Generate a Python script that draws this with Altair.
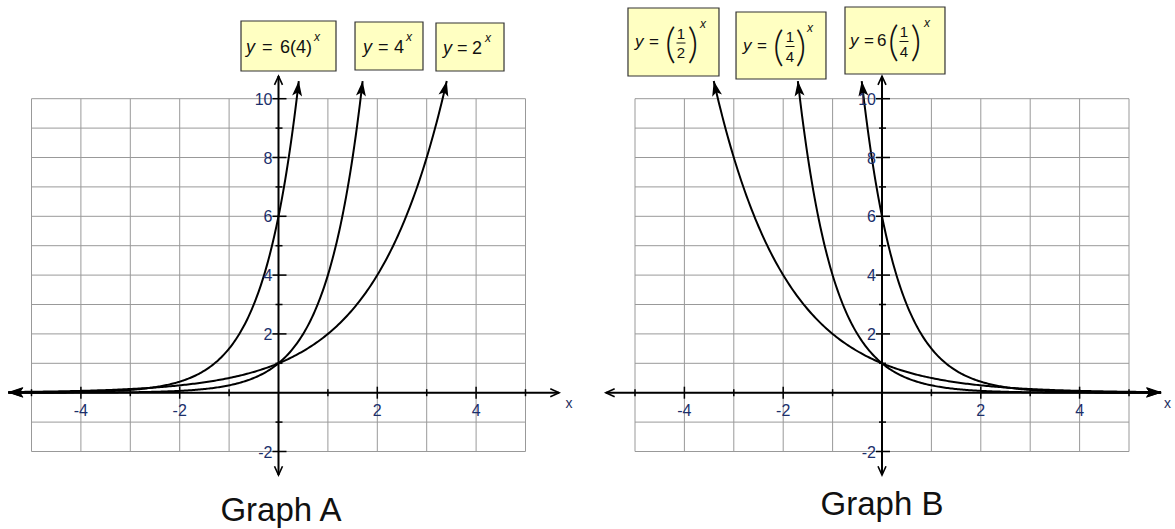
import math
import numpy as np
import pandas as pd
import altair as alt

# ---------------------------------------------------------------------------
# Exponential families, y = coef * base**x
# ---------------------------------------------------------------------------
COEF_A = [6, 1, 1]
BASE_A = [4, 4, 2]
COEF_B = [1, 1, 6]
BASE_B = [0.5, 0.25, 0.25]

TIP_Y = 10.6          # height where the steep branches end in an arrowhead
TAIL_X_A = -5.47      # left end of the Graph A curves
TAIL_X_B = 5.65       # right end of the Graph B curves

GRID_X = list(range(-5, 6))
GRID_Y = list(range(-2, 11))
X_TICK_LABELS = [-4, -2, 2, 4]
Y_TICK_LABELS = [10, 8, 6, 4, 2, -2]

X_AXIS_A = [-5.47, 5.68]
X_AXIS_B = [-5.59, 5.65]
Y_AXIS = [-2.8, 10.77]

TITLES = ["Graph A", "Graph B"]

# equation boxes: x0, x1, y_top, y_bottom (data units)
BOXES_A = [(-0.759, 1.164, 12.643, 10.942),
           (1.549, 2.925, 12.609, 10.976),
           (3.188, 4.565, 12.575, 10.942)]
BOXES_B = [(-5.142, -3.300, 13.085, 10.772),
           (-2.955, -1.134, 12.949, 10.670),
           (-0.749, 1.275, 13.119, 10.840)]

# ---------------------------------------------------------------------------
# page geometry
# ---------------------------------------------------------------------------
KX, KY = 49.4, 29.4        # pixels per unit
H = 529
Y0 = 392.7                 # pixel row of y = 0
PANEL_W = [587, 588]
ORIGIN = [278.5, 295.0]    # pixel column of x = 0 inside each panel

GRID_COLOR = "#999999"
TICK_TEXT = "#1b2f6b"
BOX_FILL = "#ffffc2"
FONT = "Liberation Sans"

# typesetting of the equation labels:
# (text, style, font size, offset right of box edge px, offset below box centre px, align)
LAYOUT_A = [
    [("y", "it", 18, 5, 1.5, "left"), ("=", "rm", 18, 21, 1.5, "left"),
     ("6(4)", "rm", 18, 39, 1.5, "left"), ("x", "it", 12, 73, -9, "left")],
    [("y", "it", 18, 8, 1.5, "left"), ("=", "rm", 18, 23, 1.5, "left"),
     ("4", "rm", 18, 39, 1.5, "left"), ("x", "it", 12, 51, -9, "left")],
    [("y", "it", 18, 7, 1.5, "left"), ("=", "rm", 18, 21, 1.5, "left"),
     ("2", "rm", 18, 36, 1.5, "left"), ("x", "it", 12, 49, -9, "left")],
]
LAYOUT_B = [
    [("y", "it", 17, 7, 0, "left"), ("=", "rm", 17, 21, 0, "left"),
     ("(", "paren", 42, 42.5, 2.5, "center"), ("1", "rm", 15, 53, -8.5, "center"),
     ("", "bar", 9, 53, 1, "center"), ("2", "rm", 15, 53, 11, "center"),
     (")", "paren", 42, 65, 2.5, "center"), ("x", "it", 12, 72, -18, "left")],
    [("y", "it", 17, 7, 0, "left"), ("=", "rm", 17, 21, 0, "left"),
     ("(", "paren", 42, 42.5, 2.5, "center"), ("1", "rm", 15, 54, -8.5, "center"),
     ("", "bar", 9, 54, 1, "center"), ("4", "rm", 15, 54, 11, "center"),
     (")", "paren", 42, 65, 2.5, "center"), ("x", "it", 12, 71, -18, "left")],
    [("y", "it", 17, 5, 0, "left"), ("=", "rm", 17, 19, 0, "left"),
     ("6", "rm", 17, 32, 0, "left"),
     ("(", "paren", 42, 48.5, 2.5, "center"), ("1", "rm", 15, 59, -8.5, "center"),
     ("", "bar", 9, 59, 1, "center"), ("4", "rm", 15, 59, 11, "center"),
     (")", "paren", 42, 71, 2.5, "center"), ("x", "it", 12, 79, -18, "left")],
]

ARROW_FILLED = "M0,0L-1,3L0,2.3L1,3Z"
ARROW_OPEN = "M-1,2.2L0,0L1,2.2"


def build_panel(i, coefs, bases, tail_x, x_axis, open_x_end, boxes, layout,
                title_x, title_y, xlabel_x):
    w, o = PANEL_W[i], ORIGIN[i]
    xs = alt.Scale(domain=[-o / KX, (w - o) / KX], nice=False, zero=False)
    ys = alt.Scale(domain=[-(H - Y0) / KY, Y0 / KY], nice=False, zero=False)

    def X(f):
        return alt.X(f, type="quantitative", scale=xs, axis=None)

    def Y(f):
        return alt.Y(f, type="quantitative", scale=ys, axis=None)

    layers = []

    # grid
    grid_v = pd.DataFrame({"x": GRID_X, "y": GRID_Y[0], "y2": GRID_Y[-1]})
    grid_h = pd.DataFrame({"y": GRID_Y, "x": GRID_X[0], "x2": GRID_X[-1]})
    layers.append(alt.Chart(grid_v).mark_rule(color=GRID_COLOR, strokeWidth=1)
                  .encode(x=X("x"), y=Y("y"), y2="y2"))
    layers.append(alt.Chart(grid_h).mark_rule(color=GRID_COLOR, strokeWidth=1)
                  .encode(y=Y("y"), x=X("x"), x2="x2"))

    # axes lines
    axes = pd.DataFrame({"x": [x_axis[0], 0], "x2": [x_axis[1], 0],
                         "y": [0, Y_AXIS[0]], "y2": [0, Y_AXIS[1]]})
    layers.append(alt.Chart(axes).mark_rule(color="black", strokeWidth=2)
                  .encode(x=X("x"), x2="x2", y=Y("y"), y2="y2"))

    # tick marks on the axes
    ticks = []
    for k in GRID_X:
        if k == 0:
            continue
        half = (6 if k % 2 == 0 else 3.5) / KY
        ticks.append({"x": k, "x2": k, "y": -half, "y2": half})
    for k in GRID_Y:
        if k == 0:
            continue
        lo, hi = (-6, 8) if k % 2 == 0 else (-3, 4)
        ticks.append({"x": lo / KX, "x2": hi / KX, "y": k, "y2": k})
    layers.append(alt.Chart(pd.DataFrame(ticks)).mark_rule(color="black", strokeWidth=1.5)
                  .encode(x=X("x"), x2="x2", y=Y("y"), y2="y2"))

    # open arrowheads at the axis ends
    open_arrows = pd.DataFrame({
        "x": [0, 0, x_axis[1] if open_x_end > 0 else x_axis[0]],
        "y": [Y_AXIS[1], Y_AXIS[0], 0],
        "angle": [0, 180, 90 if open_x_end > 0 else 270],
    })
    layers.append(alt.Chart(open_arrows)
                  .mark_point(shape=ARROW_OPEN, filled=False, size=64, color="black",
                              strokeWidth=1.6, opacity=1)
                  .encode(x=X("x"), y=Y("y"), angle=alt.Angle("angle:Q", scale=None)))

    # curves
    rows, heads = [], []
    for ci, (c, b) in enumerate(zip(coefs, bases)):
        x_tip = math.log(TIP_Y / c) / math.log(b)
        lo, hi = sorted([x_tip, tail_x])
        for j, xv in enumerate(np.linspace(lo, hi, 260)):
            rows.append({"curve": ci, "i": j, "x": xv, "y": c * b ** xv})
        s_tip = 1 if x_tip > tail_x else -1
        for xe, s in ((x_tip, s_tip), (tail_x, -s_tip)):
            slope = c * b ** xe * math.log(b)
            ang = math.degrees(math.atan2(s * KX, s * KY * slope)) % 360
            heads.append({"x": xe, "y": c * b ** xe, "angle": ang})
    layers.append(alt.Chart(pd.DataFrame(rows))
                  .mark_line(color="black", strokeWidth=2)
                  .encode(x=X("x"), y=Y("y"), detail="curve:N", order="i:Q"))
    layers.append(alt.Chart(pd.DataFrame(heads))
                  .mark_point(shape=ARROW_FILLED, filled=True, size=100, color="black", opacity=1)
                  .encode(x=X("x"), y=Y("y"), angle=alt.Angle("angle:Q", scale=None)))

    # tick labels
    xl = pd.DataFrame({"x": X_TICK_LABELS, "y": -18.3 / KY,
                       "t": [str(v) for v in X_TICK_LABELS]})
    layers.append(alt.Chart(xl).mark_text(font=FONT, fontSize=16, color=TICK_TEXT,
                                          align="center", baseline="middle")
                  .encode(x=X("x"), y=Y("y"), text="t:N"))
    yl = pd.DataFrame({"x": -6 / KX, "y": Y_TICK_LABELS,
                       "t": [str(v) for v in Y_TICK_LABELS]})
    layers.append(alt.Chart(yl).mark_text(font=FONT, fontSize=16, color=TICK_TEXT,
                                          align="right", baseline="middle", dy=1)
                  .encode(x=X("x"), y=Y("y"), text="t:N"))
    layers.append(alt.Chart(pd.DataFrame({"x": [xlabel_x], "y": [-11.3 / KY], "t": ["x"]}))
                  .mark_text(font=FONT, fontSize=14, color="#1f2f5f", align="center",
                             baseline="middle")
                  .encode(x=X("x"), y=Y("y"), text="t:N"))

    # title under the grid
    layers.append(alt.Chart(pd.DataFrame({"x": [title_x], "y": [title_y], "t": [TITLES[i]]}))
                  .mark_text(font=FONT, fontSize=33, color="#111111", align="center",
                             baseline="alphabetic")
                  .encode(x=X("x"), y=Y("y"), text="t:N"))

    # equation boxes
    bx = pd.DataFrame([{"x": b[0], "x2": b[1], "y": b[2], "y2": b[3]} for b in boxes])
    layers.append(alt.Chart(bx).mark_rect(fill=BOX_FILL, stroke="#333333", strokeWidth=1.2)
                  .encode(x=X("x"), x2="x2", y=Y("y"), y2="y2"))

    frags, bars = [], []
    for (x0, x1, yt, yb), items in zip(boxes, layout):
        cy = (yt + yb) / 2
        for text, style, size, rx, ry, align in items:
            if style == "bar":
                bars.append({"x": x0 + (rx - size / 2) / KX, "x2": x0 + (rx + size / 2) / KX,
                             "y": cy - ry / KY})
            else:
                frags.append({"x": x0 + rx / KX, "y": cy - ry / KY, "t": text,
                              "style": style, "size": size, "align": align})
    fr = pd.DataFrame(frags)
    if bars:
        layers.append(alt.Chart(pd.DataFrame(bars)).mark_rule(color="#111111", strokeWidth=1)
                      .encode(x=X("x"), x2="x2", y=Y("y")))
    styles = {
        "it": dict(font=FONT, fontStyle="italic"),
        "rm": dict(font=FONT),
        "paren": dict(font="Lato", fontWeight=300),
    }
    for (style, align), sub in fr.groupby(["style", "align"]):
        layers.append(alt.Chart(sub).mark_text(color="#111111", align=align,
                                               baseline="middle", **styles[style])
                      .encode(x=X("x"), y=Y("y"), text="t:N",
                              size=alt.Size("size:Q", scale=None)))

    return (alt.layer(*layers)
            .properties(width=w, height=H,
                        view=alt.ViewBackground(stroke="transparent", strokeWidth=0)))


panel_a = build_panel(0, COEF_A, BASE_A, TAIL_X_A, X_AXIS_A, 1, BOXES_A, LAYOUT_A,
                      0.05, (Y0 - 521) / KY, (569 - 278.5) / KX)
panel_b = build_panel(1, COEF_B, BASE_B, TAIL_X_B, X_AXIS_B, -1, BOXES_B, LAYOUT_B,
                      0.0, (Y0 - 515) / KY, 5.78)

chart = (alt.hconcat(panel_a, panel_b, spacing=0)
         .properties(padding=0, bounds="flush", background="white")
         .configure_view(stroke="transparent", strokeWidth=0))

chart.save("out.html", embed_options={"renderer": "svg", "actions": False})
